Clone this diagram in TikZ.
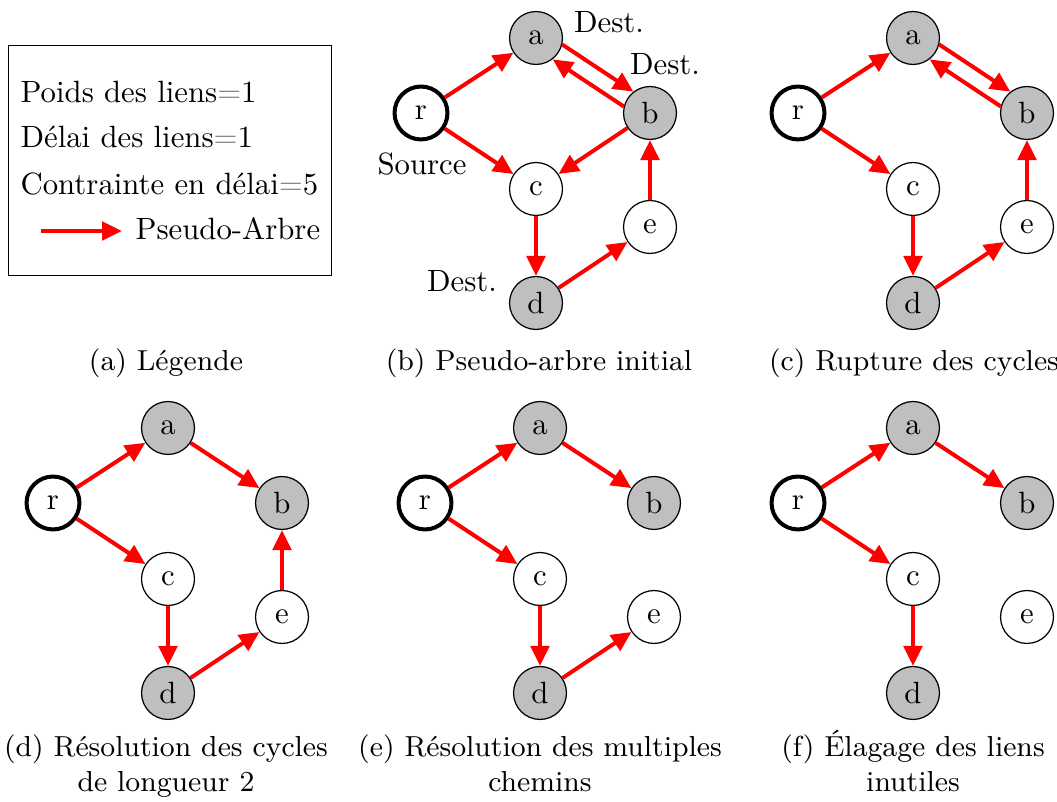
\documentclass[tikz,border=0pt]{standalone}
\usepackage{fontspec}
\usetikzlibrary{arrows.meta}
\tikzset{
  vtx/.style={circle,draw,line width=0.4pt,minimum size=17.2pt,inner sep=0pt},
  dst/.style={vtx,fill=black!25},
  src/.style={vtx,line width=1.3pt},
  arr/.style={red,line width=1.3pt,-{Triangle[length=6.5pt,width=6pt]}},
  lbl/.style={anchor=base,inner sep=0pt},
  captext/.style={align=center,anchor=base,inner sep=0pt,font=\fontsize{9.4}{11.4}\selectfont},
}
\newcommand{\mypanel}[3]{%
  \node[src] (#1r) at (#2,#3) {r};
  \node[dst] (#1a) at (#2+115,#3-75) {a};
  \node[dst] (#1b) at (#2+229,#3) {b};
  \node[vtx] (#1c) at (#2+115,#3+76) {c};
  \node[vtx] (#1e) at (#2+229,#3+114) {e};
  \node[dst] (#1d) at (#2+115,#3+190) {d};
}
\begin{document}
\begin{tikzpicture}[x=0.325pt,y=-0.325pt]
\useasboundingbox (0,0) rectangle (1057,802);
% legend
\node[draw,line width=0.4pt,minimum width=323*0.325pt,minimum height=230*0.325pt,anchor=north west,inner sep=0pt] (leg) at (8,45) {};
\node[lbl,anchor=base west] (l1) at (20,103) {Poids des liens{\color{gray}=}1};
\node[lbl,anchor=base west] (l2) at (20,148) {Délai des liens{\color{gray}=}1};
\node[lbl,anchor=base west] (l3) at (20,195) {Contrainte en délai{\color{gray}=}5};
\node[lbl,anchor=base west] (l4) at (135,240) {Pseudo-Arbre};
\coordinate (ls) at (41,231);
\coordinate (le) at (122,231);
\draw[arr] (ls) -- (le);
% panels
\mypanel{B}{421}{113}
\mypanel{C}{798}{113}
\mypanel{D}{53}{503}
\mypanel{E}{425}{503}
\mypanel{F}{798}{503}
% labels panel b
\node[lbl] (t1) at (609,33) {Dest.};
\node[lbl] (t2) at (665,75) {Dest.};
\node[lbl] (t3) at (422,175) {Source};
\node[lbl] (t4) at (462,292) {Dest.};
% edges b
\draw[arr] (Br) -- (Ba);
\draw[arr] (Br) -- (Bc);
\draw[arr] (Ba.-14) -- (Bb.128);
\draw[arr] (Bb.166) -- (Ba.-52);
\draw[arr] (Bb) -- (Bc);
\draw[arr] (Bc) -- (Bd);
\draw[arr] (Bd) -- (Be);
\draw[arr] (Be) -- (Bb);
% edges c
\draw[arr] (Cr) -- (Ca);
\draw[arr] (Cr) -- (Cc);
\draw[arr] (Ca.-14) -- (Cb.128);
\draw[arr] (Cb.166) -- (Ca.-52);
\draw[arr] (Cc) -- (Cd);
\draw[arr] (Cd) -- (Ce);
\draw[arr] (Ce) -- (Cb);
% edges d
\draw[arr] (Dr) -- (Da);
\draw[arr] (Dr) -- (Dc);
\draw[arr] (Da) -- (Db);
\draw[arr] (Dc) -- (Dd);
\draw[arr] (Dd) -- (De);
\draw[arr] (De) -- (Db);
% edges e
\draw[arr] (Er) -- (Ea);
\draw[arr] (Er) -- (Ec);
\draw[arr] (Ea) -- (Eb);
\draw[arr] (Ec) -- (Ed);
\draw[arr] (Ed) -- (Ee);
% edges f
\draw[arr] (Fr) -- (Fa);
\draw[arr] (Fr) -- (Fc);
\draw[arr] (Fa) -- (Fb);
\draw[arr] (Fc) -- (Fd);
% captions
\node[captext] (ca) at (166,371) {(a) Légende};
\node[captext] (cb) at (539,371) {(b) Pseudo-arbre initial};
\node[captext] (cc) at (914,371) {(c) Rupture des cycles};
\node[captext] (cd) at (166,792) {(d) Résolution des cycles\\de longueur 2};
\node[captext] (ce) at (540,792) {(e) Résolution des multiples\\chemins};
\node[captext] (cf) at (913,792) {(f) Élagage des liens\\inutiles};
\end{tikzpicture}
\end{document}
